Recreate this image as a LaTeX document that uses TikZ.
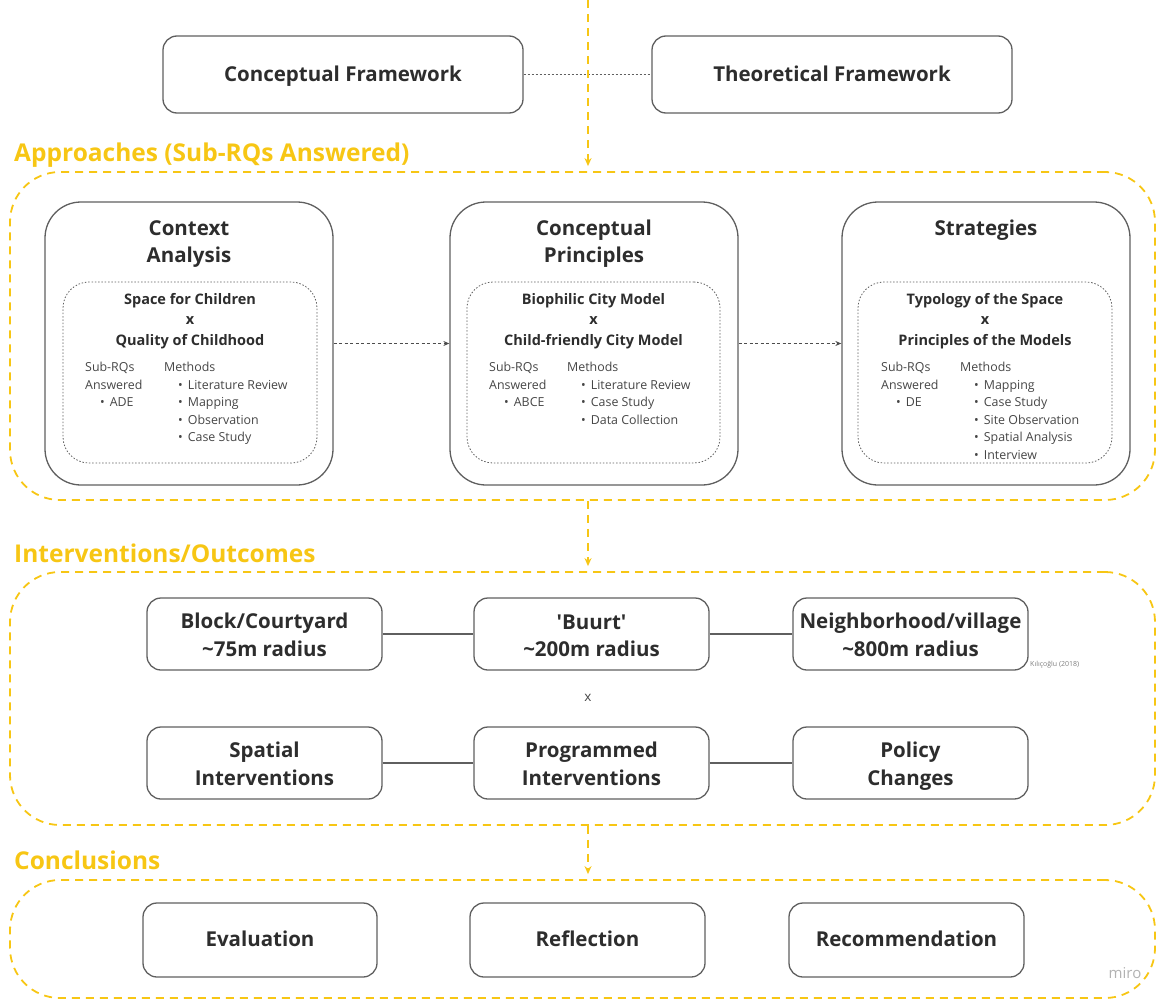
\documentclass[tikz,border=0pt]{standalone}
\usepackage{fontspec}
\setmainfont{Open Sans}
\usetikzlibrary{arrows.meta}
\definecolor{ylw}{RGB}{247,198,20}
\definecolor{edge}{RGB}{95,95,95}
\definecolor{txt}{RGB}{45,45,45}
\definecolor{small}{RGB}{70,70,70}
\newcommand\bstrut{\rule[-4.5pt]{0pt}{26.5pt}}
\newcommand\sstrut{\rule[-7pt]{0pt}{27pt}}
\begin{document}
\begin{tikzpicture}[x=1pt,y=-1pt,
  box/.style={draw=edge, line width=1.3pt, rounded corners=14pt, inner sep=0pt, align=center, text=txt, font=\fontsize{20.5}{26.5}\selectfont\bfseries},
  bigbox/.style={draw=edge, line width=1.3pt, rounded corners=36pt, inner sep=0pt},
  innerbox/.style={draw=edge, line width=0.8pt, dash pattern=on 1.5pt off 1.8pt, rounded corners=26pt, inner sep=0pt},
  zone/.style={draw=ylw, line width=1.8pt, dash pattern=on 8pt off 6pt, rounded corners=50pt, inner sep=0pt},
  ylwarrow/.style={draw=ylw, line width=1.8pt, dash pattern=on 8pt off 6pt, -{Stealth[length=8pt,width=7pt]}},
  head/.style={text=ylw, font=\fontsize{24.5}{28}\selectfont\bfseries, anchor=west, inner sep=0pt},
  title/.style={text=txt, font=\fontsize{20.5}{27}\selectfont\bfseries, align=center, inner sep=0pt},
  ititle/.style={text=txt, font=\fontsize{14.5}{20.5}\selectfont\bfseries, align=center, inner sep=0pt},
  col/.style={text=small, font=\fontsize{12.4}{17.5}\selectfont, align=left, anchor=north west, inner sep=0pt},
  link/.style={draw=edge, line width=1.2pt},
  dotlink/.style={draw=edge, line width=1.2pt, dash pattern=on 2pt off 2pt},
  darrow/.style={draw=edge!80!black, line width=1pt, dash pattern=on 3pt off 2.5pt, -{Stealth[length=6pt,width=5pt]}}
]
\useasboundingbox (0,0) rectangle (1159,1001);

% top boxes
\node[box, minimum width=360pt, minimum height=77pt] (cf) at (343,74.5) {\sstrut Conceptual Framework};
\node[box, minimum width=360pt, minimum height=77pt] (tf) at (832,74.5) {\sstrut Theoretical Framework};
\draw[dotlink] (cf) -- (tf);

% zones
\node[zone, minimum width=1145pt, minimum height=328pt] (z1) at (582.5,336) {};
\node[zone, minimum width=1145pt, minimum height=253pt] (z2) at (582.5,698.5) {};
\node[zone, minimum width=1145pt, minimum height=118pt] (z3) at (582.5,939) {};

\node[head] (h1) at (14,155) {Approaches (Sub-RQs Answered)};
\node[head] (h2) at (14,553) {Interventions/Outcomes};
\node[head] (h3) at (14,860) {Conclusions};

\coordinate (top) at (588,0);
\draw[ylwarrow, shorten >=5pt] (top) -- (top |- z1.north);
\draw[ylwarrow, shorten >=5pt] (top |- z1.south) -- (top |- z2.north);
\draw[ylwarrow, shorten >=5pt] (top |- z2.south) -- (top |- z3.north);

% approaches
\node[bigbox, minimum width=288pt, minimum height=283pt] (ca) at (189,343.5) {};
\node[bigbox, minimum width=288pt, minimum height=283pt] (cp) at (594,343.5) {};
\node[bigbox, minimum width=288pt, minimum height=283pt] (st) at (986,343.5) {};
\node[title] (cat) at (189,244) {Context\\Analysis};
\node[title] (cpt) at (594,244) {Conceptual\\Principles};
\node[title] (stt) at (986,230) {Strategies};

\node[innerbox, minimum width=254pt, minimum height=181pt] (cai) at (190,372.5) {};
\node[innerbox, minimum width=253pt, minimum height=181pt] (cpi) at (593.5,372.5) {};
\node[innerbox, minimum width=254pt, minimum height=181pt] (sti) at (985,372.5) {};

\node[ititle] (cait) at (190,321) {Space for Children\\x\\Quality of Childhood};
\node[ititle] (cpit) at (593.5,321) {Biophilic City Model\\x\\Child-friendly City Model};
\node[ititle] (stit) at (985,321) {Typology of the Space\\x\\Principles of the Models};

\node[col] (cas) at (85,362) {Sub-RQs\\Answered\\\hspace*{15pt}•\hspace{5pt}ADE};
\node[col] (cam) at (164,362) {Methods\\\hspace*{14pt}•\hspace{5pt}Literature Review\\\hspace*{14pt}•\hspace{5pt}Mapping\\\hspace*{14pt}•\hspace{5pt}Observation\\\hspace*{14pt}•\hspace{5pt}Case Study};
\node[col] (cps) at (489,362) {Sub-RQs\\Answered\\\hspace*{15pt}•\hspace{5pt}ABCE};
\node[col] (cpm) at (567,362) {Methods\\\hspace*{14pt}•\hspace{5pt}Literature Review\\\hspace*{14pt}•\hspace{5pt}Case Study\\\hspace*{14pt}•\hspace{5pt}Data Collection};
\node[col] (sts) at (881,362) {Sub-RQs\\Answered\\\hspace*{15pt}•\hspace{5pt}DE};
\node[col] (stm) at (960,362) {Methods\\\hspace*{14pt}•\hspace{5pt}Mapping\\\hspace*{14pt}•\hspace{5pt}Case Study\\\hspace*{14pt}•\hspace{5pt}Site Observation\\\hspace*{14pt}•\hspace{5pt}Spatial Analysis\\\hspace*{14pt}•\hspace{5pt}Interview};

\draw[darrow] (ca.east) -- (cp.west);
\draw[darrow] (cp.east) -- (st.west);

% interventions
\node[box, minimum width=235pt, minimum height=72pt] (b1) at (264.5,634) {\bstrut Block/Courtyard\\\textasciitilde75m radius\bstrut};
\node[box, minimum width=235pt, minimum height=72pt] (b2) at (591.5,634) {\bstrut\textquotesingle Buurt\textquotesingle\\\textasciitilde200m radius\bstrut};
\node[box, minimum width=235pt, minimum height=72pt] (b3) at (910.5,634) {\bstrut Neighborhood/village\\\textasciitilde800m radius\bstrut};
\draw[link] (b1) -- (b2);
\draw[link] (b2) -- (b3);
\node[text=small, font=\fontsize{13.5}{15}\selectfont, inner sep=0pt] (x1) at (588,698) {x};
\node[text=gray, font=\fontsize{7}{8}\selectfont, anchor=west, inner sep=0pt] (src) at (1030,665) {Kılıçoğlu (2018)};

\node[box, minimum width=235pt, minimum height=72pt] (s1) at (264.5,763) {\bstrut Spatial\\Interventions\bstrut};
\node[box, minimum width=235pt, minimum height=72pt] (s2) at (591.5,763) {\bstrut Programmed\\Interventions\bstrut};
\node[box, minimum width=235pt, minimum height=72pt] (s3) at (910.5,763) {\bstrut Policy\\Changes\bstrut};
\draw[link] (s1) -- (s2);
\draw[link] (s2) -- (s3);

% conclusions
\node[box, minimum width=234pt, minimum height=74pt] (e1) at (260,940) {\sstrut Evaluation};
\node[box, minimum width=235pt, minimum height=74pt] (e2) at (587.5,940) {\sstrut Reflection};
\node[box, minimum width=235pt, minimum height=74pt] (e3) at (906.5,940) {\sstrut Recommendation};

\node[text=black!30, font=\fontsize{15}{17}\selectfont, inner sep=0pt] (miro) at (1125,973) {miro};
\end{tikzpicture}
\end{document}
